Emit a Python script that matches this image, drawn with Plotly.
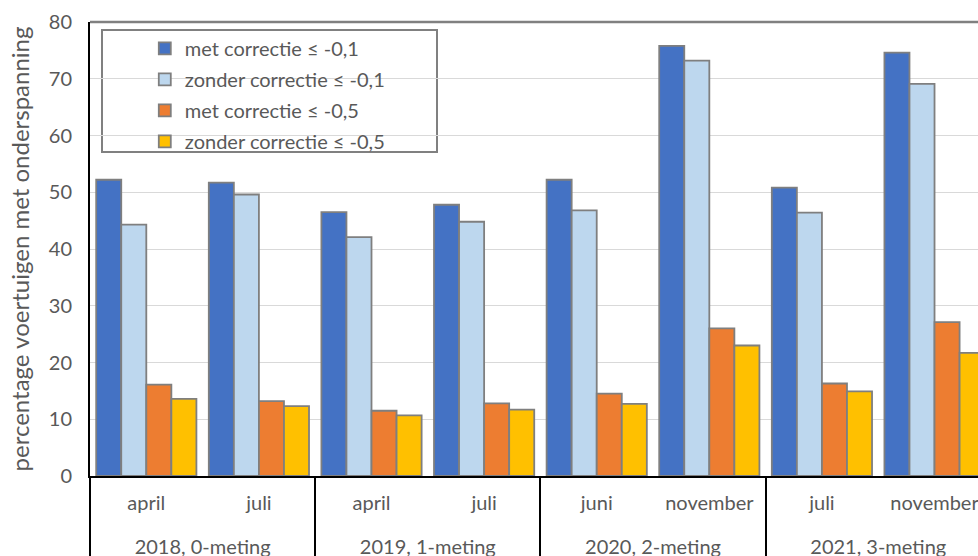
import plotly.graph_objects as go

# Measurement rounds (outer category) and months (inner category)
rounds = ["2018, 0-meting", "2018, 0-meting", "2019, 1-meting", "2019, 1-meting",
          "2020, 2-meting", "2020, 2-meting", "2021, 3-meting", "2021, 3-meting"]
months = ["april", "juli", "april", "juli", "juni", "november", "juli", "november"]

# Percentage of vehicles with undervoltage
met_01 = [52.2, 51.7, 46.5, 47.8, 52.2, 75.8, 50.8, 74.6]
zonder_01 = [44.3, 49.6, 42.1, 44.8, 46.8, 73.2, 46.4, 69.1]
met_05 = [16.1, 13.2, 11.5, 12.8, 14.5, 26.0, 16.3, 27.1]
zonder_05 = [13.6, 12.3, 10.7, 11.7, 12.7, 23.0, 14.9, 21.7]

series_names = ["met correctie ≤ -0,1", "zonder correctie ≤ -0,1",
                "met correctie ≤ -0,5", "zonder correctie ≤ -0,5"]
series_values = [met_01, zonder_01, met_05, zonder_05]
series_colors = ["#4472C4", "#BDD7EE", "#ED7D31", "#FFC000"]

text_color = "#595959"
font_family = "Lato, Carlito, 'Liberation Sans', sans-serif"

# Outer labels get an empty first line so they sit a row lower
round_labels = ["<br>" + r for r in rounds]

fig = go.Figure()
for i, (name, vals, col) in enumerate(zip(series_names, series_values, series_colors)):
    fig.add_trace(go.Bar(
        x=[round_labels, months],
        y=vals,
        name=name,
        legendgroup=f"g{i}",
        marker=dict(color=col, line=dict(color="#7F7F7F", width=1.8)),
    ))

fig.update_layout(
    width=978,
    height=556,
    margin=dict(l=90, r=0, t=22, b=80),
    paper_bgcolor="white",
    plot_bgcolor="white",
    barmode="group",
    bargap=0.11,
    bargroupgap=0,
    font=dict(family=font_family, size=20, color=text_color),
    showlegend=True,
    legend=dict(
        x=0.0617, y=0.985, xanchor="left", yanchor="top",
        bgcolor="rgba(0,0,0,0)",
        borderwidth=0,
        tracegroupgap=2,
        font=dict(size=20, color=text_color),
        itemwidth=30,
    ),
    xaxis=dict(
        type="multicategory",
        range=[-0.5, 7.386],
        showline=True, linecolor="black", linewidth=2,
        showgrid=False,
        showdividers=True, dividercolor="black", dividerwidth=2,
        ticklabelstandoff=8,
        tickfont=dict(size=20, color=text_color),
    ),
    yaxis=dict(
        range=[0, 80],
        dtick=10,
        showline=True, linecolor="black", linewidth=2,
        showgrid=True, gridcolor="#D9D9D9", gridwidth=1,
        zeroline=False,
        ticks="",
        ticklabelstandoff=12,
        tickfont=dict(size=20, color=text_color),
        title=dict(text="percentage voertuigen met onderspanning",
                   font=dict(size=24, color=text_color), standoff=12),
    ),
)

# Plot-area top border
fig.add_shape(type="line", xref="paper", yref="paper", x0=0, x1=1, y0=1, y1=1,
              line=dict(color="#808080", width=2.5))
# Legend frame
fig.add_shape(type="rect", xref="paper", yref="paper",
              x0=(102 - 90) / 888, x1=(437 - 90) / 888,
              y0=(476 - 152) / 454, y1=(476 - 30) / 454,
              line=dict(color="#808080", width=2), fillcolor="white", layer="below")

fig.write_html("out.html")
